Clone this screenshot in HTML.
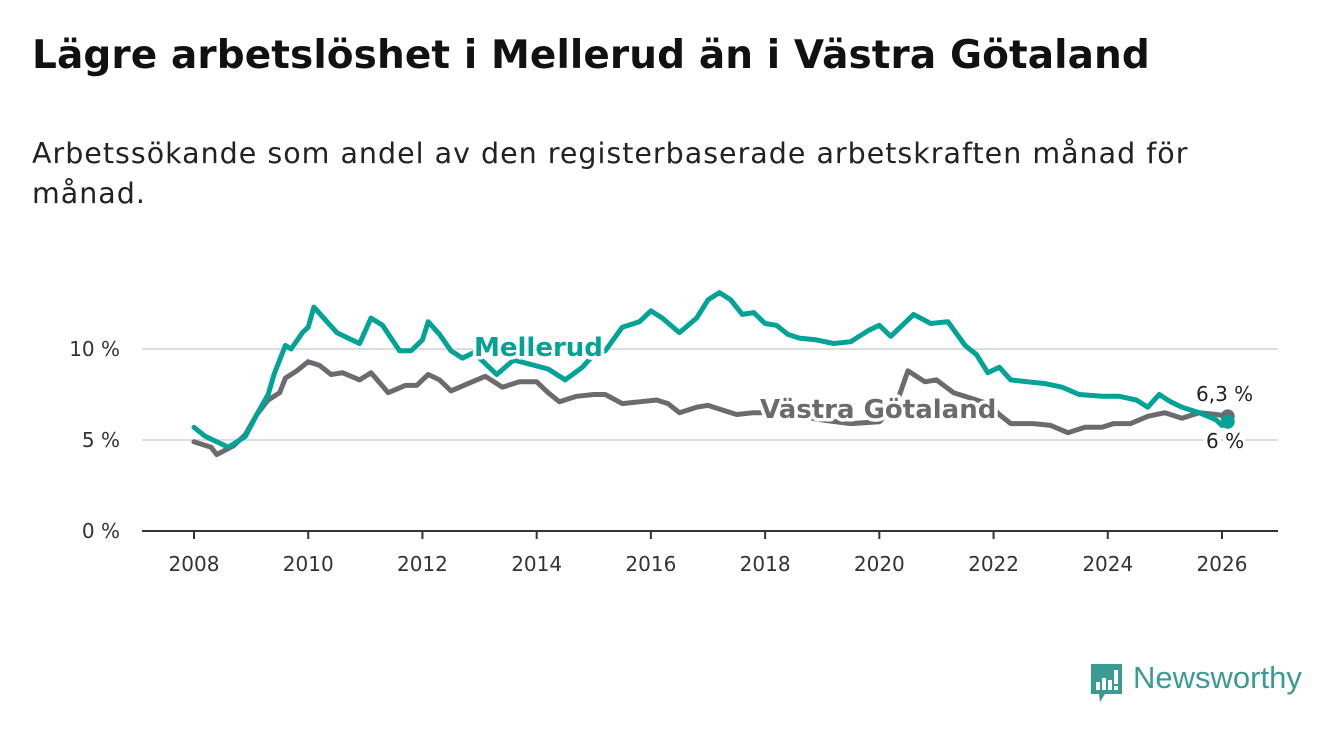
<!DOCTYPE html>
<html><head><meta charset="utf-8"><style>
body{margin:0;background:#fff;width:1340px;height:734px;overflow:hidden;font-family:"DejaVu Sans","Liberation Sans",sans-serif}
#title{position:absolute;left:32px;top:33px;font-size:39px;font-weight:bold;color:#111;margin:0;white-space:nowrap;letter-spacing:0.1px}
#sub{position:absolute;left:32px;top:134px;font-size:28.5px;color:#222;line-height:40px;width:1190px;letter-spacing:1px}
svg{position:absolute;left:0;top:0}
</style></head><body>
<h1 id="title">Lägre arbetslöshet i Mellerud än i Västra Götaland</h1>
<div id="sub">Arbetssökande som andel av den registerbaserade arbetskraften månad för månad.</div>
<svg id="chart" width="1340" height="734"></svg>
<div style="position:absolute;left:1089px;top:662px;">
<svg width="36" height="42" style="position:absolute;left:0;top:0"><path d="M2 2h31v30H16l-5 8-1-8H2z" fill="#3a9b92"/><rect x="7" y="20" width="4" height="8" fill="#fff"/><rect x="13" y="16" width="4" height="12" fill="#fff"/><rect x="19" y="18" width="4" height="10" fill="#fff"/><rect x="25" y="8" width="4" height="14" fill="#fff"/><rect x="25" y="24" width="4" height="4" fill="#fff"/></svg>
<span style="position:absolute;left:44px;top:-2px;font-size:31px;color:#3a9b92;white-space:nowrap;font-family:'Liberation Sans',sans-serif">Newsworthy</span></div>
<script>
const mellerudX=[2008.0,2008.2,2008.4,2008.6,2008.9,2009.1,2009.3,2009.4,2009.6,2009.7,2009.9,2010.0,2010.1,2010.3,2010.5,2010.7,2010.9,2011.1,2011.3,2011.6,2011.8,2012.0,2012.1,2012.3,2012.5,2012.7,2012.9,2013.3,2013.6,2014.2,2014.5,2014.8,2015.0,2015.2,2015.5,2015.8,2016.0,2016.2,2016.5,2016.8,2017.0,2017.2,2017.4,2017.6,2017.8,2018.0,2018.2,2018.4,2018.6,2018.9,2019.2,2019.5,2019.8,2020.0,2020.2,2020.6,2020.9,2021.2,2021.5,2021.7,2021.9,2022.1,2022.3,2022.6,2022.9,2023.2,2023.5,2023.9,2024.2,2024.5,2024.7,2024.9,2025.1,2025.3,2025.6,2025.9,2026.0,2026.1];
const mellerudV=[5.7,5.2,4.9,4.6,5.2,6.4,7.5,8.6,10.2,10.0,10.9,11.2,12.3,11.6,10.9,10.6,10.3,11.7,11.3,9.9,9.9,10.5,11.5,10.8,9.9,9.5,9.8,8.6,9.4,8.9,8.3,9.0,9.7,9.9,11.2,11.5,12.1,11.7,10.9,11.7,12.7,13.1,12.7,11.9,12.0,11.4,11.3,10.8,10.6,10.5,10.3,10.4,11.0,11.3,10.7,11.9,11.4,11.5,10.2,9.7,8.7,9.0,8.3,8.2,8.1,7.9,7.5,7.4,7.4,7.2,6.8,7.5,7.1,6.8,6.5,6.1,5.8,6.0];
const vgX=[2008.0,2008.3,2008.4,2008.7,2008.9,2009.1,2009.3,2009.5,2009.6,2009.8,2010.0,2010.2,2010.4,2010.6,2010.9,2011.1,2011.4,2011.7,2011.9,2012.1,2012.3,2012.5,2012.8,2013.1,2013.4,2013.7,2014.0,2014.2,2014.4,2014.7,2015.0,2015.2,2015.5,2015.8,2016.1,2016.3,2016.5,2016.8,2017.0,2017.3,2017.5,2017.8,2018.0,2018.5,2019.0,2019.5,2020.0,2020.3,2020.5,2020.8,2021.0,2021.3,2021.6,2021.9,2022.1,2022.3,2022.7,2023.0,2023.3,2023.6,2023.9,2024.1,2024.4,2024.7,2025.0,2025.3,2025.6,2025.9,2026.1];
const vgV=[4.9,4.6,4.2,4.7,5.3,6.4,7.2,7.6,8.4,8.8,9.3,9.1,8.6,8.7,8.3,8.7,7.6,8.0,8.0,8.6,8.3,7.7,8.1,8.5,7.9,8.2,8.2,7.6,7.1,7.4,7.5,7.5,7.0,7.1,7.2,7.0,6.5,6.8,6.9,6.6,6.4,6.5,6.5,6.4,6.1,5.9,6.0,7.0,8.8,8.2,8.3,7.6,7.3,7.0,6.4,5.9,5.9,5.8,5.4,5.7,5.7,5.9,5.9,6.3,6.5,6.2,6.5,6.4,6.3];
const yTicks=[0,5,10];
const yTickLabels=["0 %","5 %","10 %"];
const xTicks=[2008,2010,2012,2014,2016,2018,2020,2022,2024,2026];
const NS="http://www.w3.org/2000/svg";
const svg=document.getElementById('chart');
const xS=v=>194+(v-2008)*(1028/18);
const yS=v=>531-v*18.2;
function mk(t,a,p){const e=document.createElementNS(NS,t);for(const k in a)e.setAttribute(k,a[k]);(p||svg).appendChild(e);return e;}
yTicks.forEach((t,i)=>{
  if(t>0){const g=mk('line',{x1:142,x2:1278,y1:yS(t),y2:yS(t),stroke:'#ddd','stroke-width':2});
  
  }
  const l=mk('text',{x:120,y:yS(t)+7,'text-anchor':'end','font-size':20,fill:'#333'});l.textContent=yTickLabels[i];
  
  
});
const ax=mk('line',{x1:142,x2:1278,y1:531,y2:531,stroke:'#333','stroke-width':2});


xTicks.forEach(t=>{
  const tk=mk('line',{x1:xS(t),x2:xS(t),y1:531,y2:539,stroke:'#333','stroke-width':2});
  
  
  const l=mk('text',{x:xS(t),y:571,'text-anchor':'middle','font-size':20,fill:'#333'});l.textContent=t;
  
  
});
function line(xs,vs,c,name){
  const d=xs.map((x,i)=>(i?'L':'M')+xS(x).toFixed(1)+' '+yS(vs[i]).toFixed(1)).join('');
  const p=mk('path',{d:d,fill:'none',stroke:c,'stroke-width':5,'stroke-linejoin':'round','stroke-linecap':'round'});
  
  
  const n=xs.length-1;
  const dot=mk('circle',{cx:xS(xs[n]),cy:yS(vs[n]),r:7,fill:c});
  
  
}
line(vgX,vgV,'#6b6a6f','vastra-gotaland-line');
line(mellerudX,mellerudV,'#00a396','mellerud-line');
function lab(txt,x,y,c,size,bold,name){
  const t=mk('text',{x:x,y:y,'font-size':size,fill:c,'font-weight':bold?'bold':'normal',stroke:'#fff','stroke-width':7,'paint-order':'stroke','stroke-linejoin':'round'});
  t.textContent=txt;
  
  
}
lab('Mellerud',474,356,'#00a396',26,true,'mellerud-label');
lab('Västra Götaland',760,418,'#6b6a6f',26,true,'vastra-gotaland-label');
lab('6,3 %',1196,401,'#222',20,false,'vastra-gotaland-end-value');
lab('6 %',1206,448,'#222',20,false,'mellerud-end-value');
</script>
</body></html>
